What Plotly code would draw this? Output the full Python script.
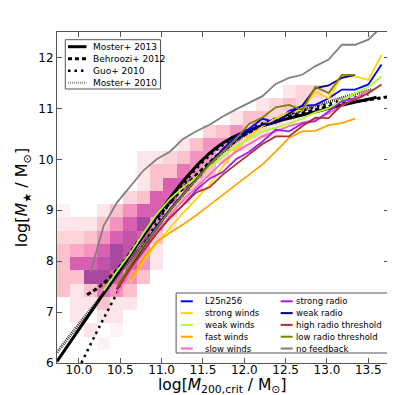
import plotly.graph_objects as go

# ---------------- data ----------------
# 2D histogram of galaxies (bin indices -> relative density level)
hist_x0 = 9.735
hist_dx = 0.1606
hist_y0 = 6.0
hist_dy = 0.26
hist_cells = {
    1: {3: 0.5},
    2: {2: 1, 4: 0.5},
    3: {1: 1, 3: 1, 4: 1},
    4: {1: 1, 2: 1, 3: 2, 4: 1, 5: 1},
    5: {0: 2, 1: 1, 2: 2, 3: 3.5, 4: 3, 5: 2},
    6: {0: 2, 1: 2, 2: 5, 3: 5, 4: 4, 5: 3, 6: 2},
    7: {0: 2, 1: 4, 2: 4, 3: 4.5, 4: 5, 5: 4, 6: 3, 7: 1},
    8: {0: 2, 1: 2.5, 2: 3, 3: 4, 4: 5, 5: 4.5, 6: 3, 7: 1},
    9: {0: 1.5, 1: 1.5, 2: 2, 3: 3, 4: 4, 5: 4.5, 6: 4, 7: 2},
    10: {0: 1, 1: 1, 2: 1, 3: 2, 4: 3, 5: 4, 6: 5, 7: 3, 8: 1},
    11: {0: 0.5, 3: 1, 4: 2, 5: 3, 6: 4, 7: 4, 8: 2},
    12: {5: 1.5, 6: 2, 7: 4, 8: 4, 9: 2},
    13: {6: 1, 7: 2, 8: 4, 9: 4, 10: 2},
    14: {6: 1, 7: 2, 8: 2, 9: 3.5, 10: 3, 11: 2},
    15: {6: 1, 7: 1, 8: 1.5, 9: 2, 10: 3, 11: 3, 12: 1.5},
    16: {9: 1, 10: 2, 11: 3, 12: 3, 13: 2, 14: 1},
    17: {11: 1.5, 12: 2, 13: 3, 14: 2, 15: 1.5, 16: 1},
    18: {13: 1, 14: 2, 15: 2, 16: 1.5, 17: 1},
    19: {15: 1, 16: 1.5, 17: 2, 18: 1.5, 19: 1},
    20: {17: 1, 18: 1.5, 19: 1.5, 20: 1},
}

# observational relations
moster13_x = [9.735, 10.0, 10.25, 10.5, 10.75, 11.0, 11.25, 11.5, 11.75, 12.0, 12.25, 12.5, 12.75, 13.0, 13.25, 13.5, 13.6]
moster13_y = [6.03, 6.66, 7.25, 7.84, 8.43, 9.01, 9.55, 10.0, 10.33, 10.54, 10.67, 10.79, 10.89, 10.99, 11.09, 11.18, 11.22]
behroozi_x = [10.1, 10.25, 10.4, 10.55, 10.7, 10.85, 11.0, 11.2, 11.4, 11.6, 11.8, 12.0, 12.25, 12.5, 12.75, 13.0, 13.25, 13.5, 13.75]
behroozi_y = [7.34, 7.5, 7.72, 8.0, 8.35, 8.66, 8.95, 9.33, 9.66, 9.97, 10.25, 10.48, 10.68, 10.82, 10.93, 11.03, 11.11, 11.17, 11.23]
guo_x = [10.03, 10.25, 10.5, 10.75, 11.0, 11.25, 11.5, 11.75, 12.0, 12.25, 12.5, 12.75, 13.0, 13.25, 13.5]
guo_y = [6.0, 6.72, 7.49, 8.23, 8.90, 9.48, 9.95, 10.29, 10.54, 10.72, 10.86, 10.98, 11.08, 11.18, 11.27]
moster10_x = [9.735, 10.0, 10.25, 10.5, 10.75, 11.0, 11.25, 11.5, 11.75, 12.0, 12.25, 12.5, 12.75, 13.0, 13.25, 13.55]
moster10_y = [6.21, 6.76, 7.27, 7.79, 8.30, 8.80, 9.29, 9.75, 10.15, 10.47, 10.70, 10.87, 11.0, 11.12, 11.24, 11.37]

# simulations
sim_names = ["L25n256", "strong winds", "weak winds", "fast winds", "slow winds",
             "strong radio", "weak radio", "high radio threshold", "low radio threshold", "no feedback"]
sim_colors = ["#0000FF", "#FFD700", "#ADFF2F", "#FFA500", "#FF69B4",
              "#A020F0", "#00008B", "#B03030", "#808000", "#808080"]

l25_x = [10.46, 10.62, 10.78, 10.94, 11.10, 11.26, 11.42, 11.58, 11.74, 11.90, 12.06, 12.22, 12.38, 12.54, 12.70, 12.86, 13.02, 13.18, 13.34, 13.50, 13.66]
l25_y = [7.45, 7.9, 8.3, 8.68, 9.02, 9.32, 9.62, 9.92, 10.2, 10.45, 10.6, 10.8, 10.72, 10.95, 11.05, 11.07, 11.2, 11.37, 11.37, 11.47, 11.86]
strongw_x = [10.62, 10.78, 10.94, 11.10, 11.26, 11.42, 11.58, 11.74, 11.90, 12.06, 12.22, 12.38, 12.54, 12.70, 12.86, 13.02, 13.18, 13.34, 13.50, 13.66]
strongw_y = [7.6, 8.0, 8.35, 8.65, 8.95, 9.22, 9.5, 9.85, 10.2, 10.45, 10.65, 10.8, 10.92, 10.97, 11.33, 11.2, 11.63, 11.63, 11.56, 12.05]
weakw_x = [10.30, 10.46, 10.62, 10.78, 10.94, 11.10, 11.26, 11.42, 11.58, 11.74, 11.90, 12.06, 12.22, 12.38, 12.54, 12.70, 12.86, 13.02, 13.18, 13.34, 13.50, 13.66]
weakw_y = [7.42, 7.8, 8.15, 8.55, 8.92, 9.22, 9.45, 9.65, 9.85, 10.05, 10.25, 10.4, 10.55, 10.62, 10.7, 10.8, 10.92, 11.0, 11.15, 11.3, 11.42, 11.63]
fastw_x = [10.63, 10.78, 10.94, 11.10, 11.26, 11.42, 11.58, 11.74, 11.90, 12.06, 12.22, 12.38, 12.54, 12.70, 12.86, 13.02, 13.18, 13.34]
fastw_y = [7.64, 8.05, 8.38, 8.56, 8.72, 8.9, 9.1, 9.3, 9.5, 9.7, 9.9, 10.15, 10.42, 10.55, 10.56, 10.67, 10.71, 10.8]
sloww_x = [10.46, 10.62, 10.78, 10.94, 11.10, 11.26, 11.42, 11.58, 11.74, 11.90, 12.06, 12.22, 12.38, 12.54, 12.70, 12.86, 13.02, 13.18, 13.34, 13.50]
sloww_y = [7.35, 7.8, 8.2, 8.55, 8.9, 9.2, 9.45, 9.7, 9.95, 10.15, 10.3, 10.45, 10.55, 10.65, 10.72, 10.78, 10.9, 11.05, 11.2, 11.35]
strongr_x = [10.46, 10.62, 10.78, 10.94, 11.10, 11.26, 11.42, 11.58, 11.74, 11.90, 12.06, 12.22, 12.38, 12.54, 12.70, 12.86, 13.02, 13.18, 13.34]
strongr_y = [7.45, 7.85, 8.2, 8.55, 8.85, 9.1, 9.4, 9.62, 9.75, 10.0, 10.15, 10.35, 10.58, 10.55, 10.7, 10.75, 10.94, 11.14, 11.2]
weakr_x = [10.46, 10.62, 10.78, 10.94, 11.10, 11.26, 11.42, 11.58, 11.74, 11.90, 12.06, 12.22, 12.38, 12.54, 12.70, 12.86, 13.02, 13.18, 13.34]
weakr_y = [7.45, 7.88, 8.28, 8.65, 9.0, 9.3, 9.62, 9.92, 10.18, 10.38, 10.55, 10.68, 10.72, 10.9, 11.05, 11.4, 11.45, 11.6, 11.66]
highr_x = [10.46, 10.62, 10.78, 10.94, 11.10, 11.26, 11.42, 11.58, 11.74, 11.90, 12.06, 12.22, 12.38, 12.54, 12.70, 12.86, 13.02, 13.18, 13.34, 13.50, 13.66]
highr_y = [7.45, 7.85, 8.2, 8.55, 8.85, 9.1, 9.35, 9.45, 9.7, 9.9, 10.1, 10.3, 10.45, 10.45, 10.65, 10.82, 10.81, 11.07, 11.17, 11.3, 11.47]
lowr_x = [10.46, 10.62, 10.78, 10.94, 11.10, 11.26, 11.42, 11.58, 11.74, 11.90, 12.06, 12.22, 12.38, 12.54, 12.70, 12.86, 13.02, 13.18, 13.34]
lowr_y = [7.5, 7.92, 8.3, 8.66, 9.0, 9.3, 9.6, 9.9, 10.15, 10.4, 10.7, 10.82, 11.02, 11.07, 10.97, 11.42, 11.3, 11.66, 11.66]
nofb_x = [10.14, 10.30, 10.46, 10.62, 10.78, 10.94, 11.10, 11.26, 11.42, 11.58, 11.74, 11.90, 12.06, 12.22, 12.38, 12.54, 12.70, 12.86, 13.02, 13.18, 13.34, 13.50, 13.66]
nofb_y = [7.78, 8.70, 9.15, 9.47, 9.78, 10.0, 10.15, 10.40, 10.55, 10.68, 10.84, 10.98, 11.11, 11.24, 11.48, 11.60, 11.66, 11.83, 11.96, 12.25, 12.25, 12.35, 12.6]

sim_x = [l25_x, strongw_x, weakw_x, fastw_x, sloww_x, strongr_x, weakr_x, highr_x, lowr_x, nofb_x]
sim_y = [l25_y, strongw_y, weakw_y, fastw_y, sloww_y, strongr_y, weakr_y, highr_y, lowr_y, nofb_y]

x_ticks = [10.0, 10.5, 11.0, 11.5, 12.0, 12.5, 13.0, 13.5]
y_ticks = [6, 7, 8, 9, 10, 11, 12]

# ---------------- figure ----------------
fig = go.Figure()

nx, ny = 25, 25
z = [[None] * nx for _ in range(ny)]
for j, row in hist_cells.items():
    for i, v in row.items():
        z[j][i] = v
cx = [hist_x0 + hist_dx * (i + 0.5) for i in range(nx)]
cy = [hist_y0 + hist_dy * (j + 0.5) for j in range(ny)]

fig.add_trace(go.Heatmap(
    z=z, x=cx, y=cy,
    zmin=0, zmax=5, showscale=False, hoverinfo="skip",
    colorscale=[[0, "#ffffff"], [0.2, "#fde6e9"], [0.4, "#fbc2ce"],
                [0.6, "#f293c0"], [0.8, "#d95fb0"], [1.0, "#a8489f"]],
))

ref_specs = [
    (moster10_x, moster10_y, dict(color="#333333", width=3, dash="1px,1px")),
    (guo_x, guo_y, dict(color="black", width=2.5, dash="2.5px,4px")),
    (behroozi_x, behroozi_y, dict(color="black", width=3, dash="4px,3px")),
    (moster13_x, moster13_y, dict(color="black", width=3)),
]
for xs, ys, ln in ref_specs:
    fig.add_trace(go.Scatter(x=xs, y=ys, mode="lines", line=dict(shape="spline", **ln),
                             showlegend=False, hoverinfo="skip"))

for name, col, xs, ys in zip(sim_names, sim_colors, sim_x, sim_y):
    fig.add_trace(go.Scatter(x=xs, y=ys, mode="lines", name=name,
                             line=dict(color=col, width=1.8), showlegend=False))

# ---------------- manual legends & titles ----------------
L, R, T, B = 49, 381.5, 24, 355
def PX(px):
    return (px - L) / (R - L)
def PY(py):
    return (B - py) / (B - T)

shapes = []
annots = []
FONT = "DejaVu Sans"

# legend 1
shapes.append(dict(type="rect", xref="paper", yref="paper", x0=PX(57.3), x1=PX(152.7),
                   y0=PY(81), y1=PY(31.7), line=dict(color="#555", width=1), fillcolor="white", layer="above"))
ref_names = ["Moster+ 2013", "Behroozi+ 2012", "Guo+ 2010", "Moster+ 2010"]
ref_lines = [dict(color="black", width=3), dict(color="black", width=3, dash="4px,3px"),
             dict(color="black", width=2.5, dash="2.5px,4px"), dict(color="#999", width=2.5, dash="1px,1px")]
for k, (nm, ln) in enumerate(zip(ref_names, ref_lines)):
    py = 38.7 + 12 * k
    shapes.append(dict(type="line", xref="paper", yref="paper", x0=PX(60), x1=PX(78.5),
                       y0=PY(py), y1=PY(py), line=ln, layer="above"))
    annots.append(dict(text=nm, xref="paper", yref="paper", x=PX(83.5), y=PY(py), xanchor="left",
                       yanchor="middle", showarrow=False, font=dict(family=FONT, size=9, color="black")))

# legend 2
shapes.append(dict(type="rect", xref="paper", yref="paper", x0=PX(168.3), x1=PX(380),
                   y0=PY(345), y1=PY(285), line=dict(color="#555", width=1), fillcolor="white", layer="above"))
for k, (nm, col) in enumerate(zip(sim_names, sim_colors)):
    c, r = divmod(k, 5)
    py = 293.3 + 11.8 * r
    sx0 = 173 if c == 0 else 273
    tx = 195.5 if c == 0 else 286.5
    shapes.append(dict(type="line", xref="paper", yref="paper", x0=PX(sx0), x1=PX(sx0 + 12),
                       y0=PY(py), y1=PY(py), line=dict(color=col, width=2), layer="above"))
    annots.append(dict(text=nm, xref="paper", yref="paper", x=PX(tx), y=PY(py), xanchor="left",
                       yanchor="middle", showarrow=False, font=dict(family=FONT, size=8.5, color="black")))

# x-axis title as annotation (keeps it inside the canvas)
annots.append(dict(text="log[<i>M</i><sub>200,crit</sub> / M<sub>⊙</sub>]", xref="paper", yref="paper",
                   x=PX(215), y=PY(378), xanchor="center", yanchor="middle", showarrow=False,
                   font=dict(family=FONT, size=15.5, color="black")))

fig.update_layout(
    width=395, height=395,
    margin=dict(l=L, r=395 - R, t=T, b=395 - B),
    paper_bgcolor="white", plot_bgcolor="white",
    shapes=shapes, annotations=annots,
    font=dict(family=FONT, color="black"),
    xaxis=dict(range=[9.735, 13.75], tickvals=x_ticks, ticktext=[f"{v:.1f}" for v in x_ticks],
               ticks="inside", ticklen=5, tickcolor="#555", showline=True, linecolor="#555",
               linewidth=1, mirror="ticks", showgrid=False, zeroline=False,
               ticklabelstandoff=-4,
               tickfont=dict(size=12, family=FONT)),
    yaxis=dict(range=[6, 12.5], tickvals=y_ticks, ticktext=[str(v) for v in y_ticks],
               ticks="inside", ticklen=5, tickcolor="#555", showline=True, linecolor="#555",
               linewidth=1, mirror="ticks", showgrid=False, zeroline=False,
               tickfont=dict(size=12, family=FONT),
               title=dict(text="log[<i>M</i><sub>★</sub> / M<sub>⊙</sub>]",
                          font=dict(size=16, family=FONT), standoff=6)),
)

fig.write_html("out.html")
